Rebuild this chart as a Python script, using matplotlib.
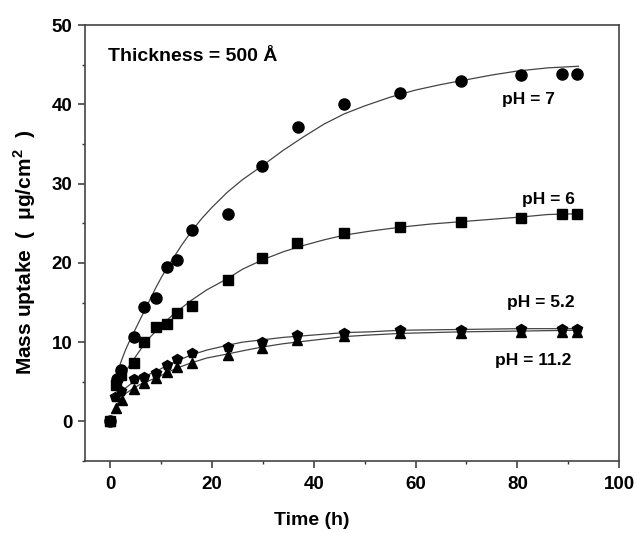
import matplotlib
matplotlib.use('Agg')
import matplotlib.pyplot as plt
from matplotlib.ticker import MultipleLocator

plt.rcParams['font.family'] = ['Liberation Sans', 'DejaVu Sans']
plt.rcParams['font.weight'] = 'bold'
plt.rcParams['mathtext.fontset'] = 'custom'
plt.rcParams['mathtext.rm'] = 'Liberation Sans:bold'
plt.rcParams['mathtext.bf'] = 'Liberation Sans:bold'

# measured points
t7 = [0, 1.3, 2.1, 4.6, 6.7, 9, 11.1, 13.2, 16, 23.1, 29.9, 36.9, 45.9, 56.9, 69, 80.8, 88.7, 91.8]
m7 = [0, 5.4, 6.5, 10.6, 14.4, 15.6, 19.5, 20.4, 24.2, 26.2, 32.2, 37.2, 40.1, 41.4, 43.0, 43.7, 43.8, 43.8]

t6 = [0, 1.2, 2.2, 4.7, 6.7, 9, 11.1, 13.2, 16, 23.1, 29.9, 36.8, 45.9, 56.9, 69, 80.8, 88.7, 91.8]
m6 = [0, 4.6, 5.8, 7.4, 10.0, 11.9, 12.3, 13.7, 14.5, 17.8, 20.6, 22.5, 23.8, 24.5, 25.1, 25.6, 26.2, 26.2]

t52 = [0, 1.0, 2.1, 4.6, 6.7, 9, 11.1, 13.2, 16, 23.1, 29.9, 36.8, 45.9, 56.9, 69, 80.8, 88.7, 91.8]
m52 = [0, 3.1, 3.8, 5.3, 5.6, 6.1, 7.1, 7.9, 8.6, 9.4, 10.0, 10.9, 11.2, 11.5, 11.5, 11.7, 11.7, 11.7]

t112 = [0, 1.2, 2.3, 4.7, 6.7, 9, 11.1, 13.2, 16, 23.1, 29.9, 36.8, 45.9, 56.9, 69, 80.8, 88.7, 91.8]
m112 = [0, 1.7, 2.7, 4.1, 4.8, 5.5, 6.2, 6.9, 7.4, 8.4, 9.3, 10.3, 10.8, 11.1, 11.2, 11.3, 11.3, 11.3]

# fitted curves
ct7 = [1.3, 2, 3, 4, 5, 6, 7, 8, 9, 10, 11, 12, 14, 16, 18, 20, 23, 26, 30, 34, 38, 42, 46, 50,
       55, 60, 65, 70, 75, 80, 86, 92]
c7 = [5.5, 7.3, 9.0, 10.4, 11.7, 13.0, 14.3, 15.6, 16.9, 18.1, 19.2, 20.2, 22.2, 24.0, 25.6, 27.0,
      28.9, 30.5, 32.3, 34.2, 35.9, 37.5, 38.8, 39.8, 40.9, 41.8, 42.5, 43.1, 43.7, 44.2, 44.6, 44.8]
ct = [1, 2, 3, 4.6, 6, 7.5, 9, 11, 13, 16, 19, 23, 26, 30, 34, 38, 42, 46, 51, 57, 63, 69, 75, 81, 86, 92]
c6 = [4.0, 5.3, 6.3, 7.8, 9.1, 10.4, 11.4, 12.7, 13.8, 15.3, 16.6, 18.0, 19.2, 20.4, 21.4, 22.2,
      22.9, 23.5, 24.0, 24.5, 24.9, 25.2, 25.5, 25.8, 26.1, 26.2]
c52 = [2.5, 3.5, 4.2, 5.0, 5.5, 5.9, 6.3, 7.0, 7.6, 8.4, 9.0, 9.6, 10.0, 10.3, 10.6, 10.8,
       11.0, 11.2, 11.3, 11.5, 11.55, 11.6, 11.65, 11.7, 11.7, 11.7]
c112 = [1.8, 2.8, 3.5, 4.2, 4.7, 5.1, 5.5, 6.1, 6.7, 7.4, 8.0, 8.5, 8.9, 9.4, 9.8, 10.1,
        10.4, 10.7, 10.9, 11.1, 11.2, 11.3, 11.35, 11.4, 11.45, 11.5]

fig = plt.figure(figsize=(6.37, 5.33), dpi=100)
ax = fig.add_axes([0.133, 0.135, 0.839, 0.818])

lc = '#444444'
ax.plot(ct7, c7, color=lc, lw=0.9)
ax.plot(ct, c6, color=lc, lw=0.9)
ax.plot(ct, c52, color=lc, lw=0.9)
ax.plot(ct, c112, color=lc, lw=0.9)

ax.plot(t7, m7, 'o', color='black', ms=8, ls='none')
ax.plot(t6, m6, 's', color='black', ms=7, ls='none')
ax.plot(t52, m52, 'p', color='black', ms=7, ls='none')
ax.plot(t112, m112, '^', color='black', ms=6.5, ls='none')

ax.set_xlim(-5, 100)
ax.set_ylim(-5, 50)
ax.xaxis.set_major_locator(MultipleLocator(20))
ax.xaxis.set_minor_locator(MultipleLocator(10))
ax.yaxis.set_major_locator(MultipleLocator(10))
ax.yaxis.set_minor_locator(MultipleLocator(5))
ax.tick_params(which='major', direction='out', length=5, width=1.1, labelsize=13.5,
               color='#333333', pad=4)
ax.tick_params(axis='x', which='major', pad=6)
ax.tick_params(which='minor', direction='out', length=2.5, width=1, color='#333333')
for s in ax.spines.values():
    s.set_color('#444444')
    s.set_linewidth(1.2)

ax.set_xlabel('Time (h)', fontsize=14, fontweight='bold')
ax.set_ylabel('Mass uptake  (  μg/cm$^\\mathbf{2}$  )', fontsize=15, fontweight='bold')
ax.xaxis.set_label_coords(0.425, -0.118)
ax.yaxis.set_label_coords(-0.088, 0.48)

ax.text(-0.5, 46, 'Thickness = 500 Å', fontsize=14, fontweight='bold', va='center')
ax.text(76.9, 40.6, 'pH = 7', fontsize=12.5, fontweight='bold', va='center')
ax.text(81, 28, 'pH = 6', fontsize=12.5, fontweight='bold', va='center')
ax.text(78, 15.0, 'pH = 5.2', fontsize=12.5, fontweight='bold', va='center')
ax.text(75.7, 7.7, 'pH = 11.2', fontsize=12.5, fontweight='bold', va='center')

plt.savefig('out.png', dpi=100)
